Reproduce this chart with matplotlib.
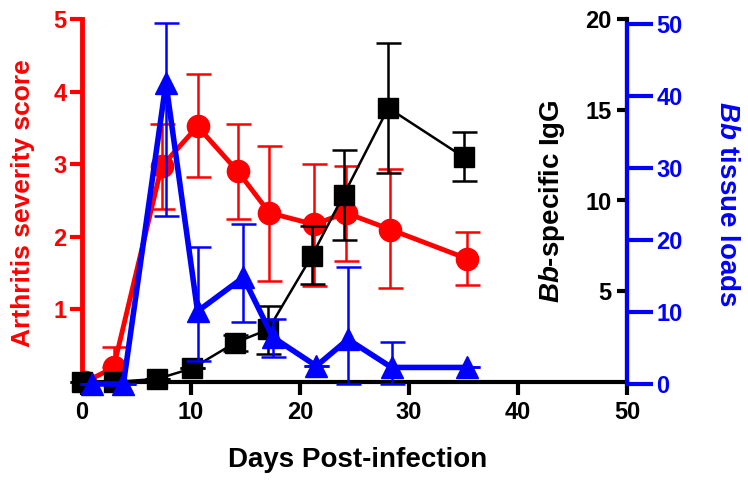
import matplotlib

matplotlib.use("Agg")
import matplotlib.pyplot as plt

# Arthritis severity score (left, red)
arthritis_days = [0.3, 2.9, 7.3, 10.6, 14.3, 17.2, 21.3, 24.2, 28.3, 35.3]
arthritis_score = [0.0, 0.2, 2.97, 3.52, 2.9, 2.33, 2.17, 2.33, 2.1, 1.7]
arthritis_upper = [0.0, 0.48, 3.56, 4.24, 3.56, 3.25, 3.0, 2.97, 2.93, 2.06]
arthritis_lower = [0.0, 0.2, 2.38, 2.83, 2.24, 1.39, 1.32, 1.66, 1.29, 1.33]

# Bb-specific IgG (right, black)
igg_days = [0.0, 2.9, 6.9, 10.1, 14.0, 17.1, 21.1, 24.0, 28.1, 35.0]
igg_level = [0.0, 0.0, 0.17, 0.75, 2.15, 2.9, 6.96, 10.3, 15.1, 12.4]
igg_upper = [0.0, 0.0, 0.17, 0.75, 2.6, 4.2, 8.6, 12.76, 18.7, 13.8]
igg_lower = [0.0, 0.0, 0.17, 0.75, 1.7, 1.55, 5.4, 7.8, 11.5, 11.1]

# Bb tissue loads (right, blue)
load_days = [0.9, 3.8, 7.7, 10.6, 14.8, 17.5, 21.5, 24.4, 28.4, 35.3]
load_value = [0.0, 0.0, 41.8, 10.1, 14.8, 6.5, 2.5, 6.2, 2.3, 2.3]
load_upper = [0.0, 0.0, 50.1, 19.0, 22.2, 9.0, 2.5, 16.2, 5.8, 2.3]
load_lower = [0.0, 0.0, 23.3, 3.2, 8.6, 3.7, 2.5, 0.0, 0.0, 2.3]

x_ticks = [0, 10, 20, 30, 40, 50]
arthritis_ticks = [1, 2, 3, 4, 5]
igg_ticks = [5, 10, 15, 20]
load_ticks = [0, 10, 20, 30, 40, 50]

RED = "#ff0000"
BLUE = "#0000ff"
BLACK = "#000000"

plt.rcParams["font.family"] = ["Liberation Sans", "DejaVu Sans"]
plt.rcParams["font.weight"] = "bold"
plt.rcParams["mathtext.fontset"] = "custom"
plt.rcParams["mathtext.it"] = "Liberation Sans:italic:bold"
plt.rcParams["mathtext.rm"] = "Liberation Sans:bold"

W, H = 748, 484
fig = plt.figure(figsize=(W / 100, H / 100), dpi=100)


def frac_box(left, right, top, bottom):
    return [left / W, 1 - bottom / H, (right - left) / W, (bottom - top) / H]


def errs(values, upper, lower):
    return [[v - lo for v, lo in zip(values, lower)],
            [hi - v for v, hi in zip(values, upper)]]


tick_font = 17

# red axes with x axis
ax = fig.add_axes(frac_box(82, 627, 19, 382))
ax.patch.set_alpha(0)
ax.set_xlim(0, 50)
ax.set_ylim(0, 5)
for side in ("top", "right"):
    ax.spines[side].set_visible(False)
ax.spines["left"].set_color(RED)
ax.spines["left"].set_linewidth(3.5)
ax.spines["bottom"].set_linewidth(3.0)
ax.set_xticks(x_ticks)
ax.set_yticks(arthritis_ticks)
ax.tick_params(axis="x", length=9, width=3, pad=5, labelsize=tick_font)
ax.tick_params(axis="y", length=9, width=3, pad=2, labelsize=tick_font,
               colors=RED)
ax.errorbar(arthritis_days, arthritis_score,
            yerr=errs(arthritis_score, arthritis_upper, arthritis_lower),
            color=RED, marker="o", markersize=16, linewidth=3.5,
            elinewidth=1.8, capsize=9, capthick=1.8, clip_on=False)

# black IgG axes, spine at the right edge, labels to its left
ax2 = fig.add_axes(frac_box(82, 627, 19, 382))
ax2.patch.set_alpha(0)
ax2.set_xlim(0, 50)
ax2.set_ylim(0, 20)
for side in ("top", "right", "bottom"):
    ax2.spines[side].set_visible(False)
ax2.spines["left"].set_position(("axes", 1.0))
ax2.spines["left"].set_linewidth(3.0)
ax2.set_xticks([])
ax2.set_yticks(igg_ticks)
ax2.tick_params(axis="y", length=7, width=3, pad=4, labelsize=tick_font)
ax2.errorbar(igg_days, igg_level, yerr=errs(igg_level, igg_upper, igg_lower),
             color=BLACK, marker="s", markersize=15, linewidth=1.8,
             elinewidth=1.8, capsize=9, capthick=1.8, clip_on=False)

# blue tissue load axes
ax3 = fig.add_axes(frac_box(82, 627, 24, 384))
ax3.patch.set_alpha(0)
ax3.set_xlim(0, 50)
ax3.set_ylim(0, 50)
for side in ("top", "left", "bottom"):
    ax3.spines[side].set_visible(False)
ax3.spines["right"].set_color(BLUE)
ax3.spines["right"].set_linewidth(3.0)
ax3.set_xticks([])
ax3.yaxis.tick_right()
ax3.set_yticks(load_ticks)
ax3.tick_params(axis="y", length=19, width=3, pad=2, labelsize=tick_font,
                colors=BLUE)
ax3.errorbar(load_days, load_value, yerr=errs(load_value, load_upper, load_lower),
             color=BLUE, marker="^", markersize=16, linewidth=4.0,
             elinewidth=1.8, capsize=9, capthick=1.8, clip_on=False)

label_font = 20
fig.text(358 / W, 1 - 460 / H, "Days Post-infection", ha="center", va="center",
         fontsize=label_font, fontweight="bold")
fig.text(23 / W, 1 - 203 / H, "Arthritis severity score", ha="center",
         va="center", rotation=90, fontsize=19, fontweight="bold",
         color=RED)
fig.text(552 / W, 1 - 201 / H, r"$\it{Bb}$-specific IgG", ha="center",
         va="center", rotation=90, fontsize=label_font, fontweight="bold")
fig.text(727 / W, 1 - 204 / H, r"$\it{Bb}$ tissue loads", ha="center",
         va="center", rotation=270, fontsize=label_font, fontweight="bold",
         color=BLUE)

fig.savefig("out.png", dpi=100)
